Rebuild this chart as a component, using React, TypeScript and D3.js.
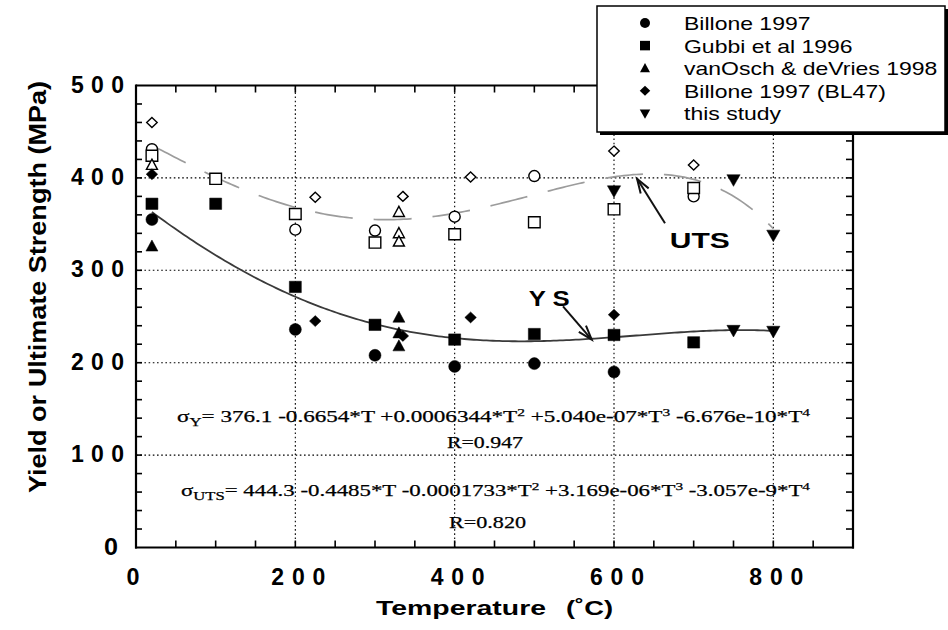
import React from 'react';
import * as d3 from 'd3';

const W = 948;
const H = 630;

// Axis ticks
const xMajor = [0, 200, 400, 600, 800];
const yMajor = [0, 100, 200, 300, 400, 500];
const xGrid = [200, 400, 600, 800];
const yGrid = [100, 200, 300, 400];

// [temperature °C, strength MPa]
const billoneYS: [number, number][] = [[20, 355], [200, 236], [300, 208], [400, 196], [500, 199], [600, 190]];
const billoneUTS: [number, number][] = [[20, 431], [200, 344], [300, 343], [400, 358], [500, 402], [700, 380]];
const gubbiYS: [number, number][] = [[20, 372], [100, 372], [200, 282], [300, 241], [400, 225], [500, 231], [600, 230], [700, 222]];
const gubbiUTS: [number, number][] = [[20, 424], [100, 399], [200, 361], [300, 330], [400, 339], [500, 352], [600, 366], [700, 389]];
const vanOschYS: [number, number][] = [[20, 326], [330, 249], [330, 232], [330, 218]];
const vanOschUTS: [number, number][] = [[20, 414], [330, 363], [330, 340], [330, 331]];
const bl47YS: [number, number][] = [[20, 404], [225, 245], [335, 229], [420, 249], [600, 252]];
const bl47UTS: [number, number][] = [[20, 460], [225, 379], [335, 380], [420, 401], [600, 429], [700, 414]];
const studyYS: [number, number][] = [[750, 235], [800, 234]];
const studyUTS: [number, number][] = [[600, 386], [750, 398], [800, 338]];

// Fourth-order polynomial fits (coefficients of T^0 .. T^4)
const ysCoef = [376.1, -0.6654, 0.0006344, 5.040e-07, -6.676e-10];
const utsCoef = [444.3, -0.4485, -0.0001733, 3.169e-06, -3.057e-9];
const fitRange = [20, 800];

const legendLabels = ['Billone 1997', 'Gubbi et al 1996', 'vanOsch & deVries 1998', 'Billone 1997 (BL47)', 'this study'];
type Shape = 'circle' | 'square' | 'triangle' | 'diamond' | 'triangleDown';
const legendShapes: Shape[] = ['circle', 'square', 'triangle', 'diamond', 'triangleDown'];

const x = d3.scaleLinear().domain([0, 900]).range([136, 853]);
const y = d3.scaleLinear().domain([0, 500]).range([547.5, 85.5]);

const poly = (c: number[], t: number) => c.reduce((s, a, i) => s + a * Math.pow(t, i), 0);

function markerPath(shape: Shape, cx: number, cy: number, s: number): string {
  const p = d3.path();
  if (shape === 'circle') {
    p.moveTo(cx + s, cy);
    p.arc(cx, cy, s, 0, Math.PI * 2);
  } else if (shape === 'square') {
    p.rect(cx - s, cy - s * 0.95, 2 * s, 1.9 * s);
  } else if (shape === 'triangle') {
    p.moveTo(cx, cy - s * 1.05);
    p.lineTo(cx + s, cy + s * 0.8);
    p.lineTo(cx - s, cy + s * 0.8);
  } else if (shape === 'diamond') {
    p.moveTo(cx, cy - s);
    p.lineTo(cx + s * 1.05, cy);
    p.lineTo(cx, cy + s);
    p.lineTo(cx - s * 1.05, cy);
  } else {
    p.moveTo(cx, cy + s * 1.05);
    p.lineTo(cx + s * 1.05, cy - s * 0.8);
    p.lineTo(cx - s * 1.05, cy - s * 0.8);
  }
  p.closePath();
  return p.toString();
}

const filledSize: Record<Shape, number> = { circle: 6, square: 6, triangle: 6, diamond: 5.5, triangleDown: 6.3 };
const openSize: Record<Shape, number> = { circle: 5.5, square: 5.8, triangle: 5.5, diamond: 5, triangleDown: 6 };

const seriesYS: { shape: Shape; data: [number, number][] }[] = [
  { shape: 'circle', data: billoneYS },
  { shape: 'square', data: gubbiYS },
  { shape: 'triangle', data: vanOschYS },
  { shape: 'diamond', data: bl47YS },
  { shape: 'triangleDown', data: studyYS },
];
const seriesUTS: { shape: Shape; data: [number, number][]; filled: boolean }[] = [
  { shape: 'circle', data: billoneUTS, filled: false },
  { shape: 'square', data: gubbiUTS, filled: false },
  { shape: 'triangle', data: vanOschUTS, filled: false },
  { shape: 'diamond', data: bl47UTS, filled: false },
  { shape: 'triangleDown', data: studyUTS, filled: true },
];

function Arrow({ from, to }: { from: [number, number]; to: [number, number] }) {
  const [x1, y1] = [x(from[0]), y(from[1])];
  const [x2, y2] = [x(to[0]), y(to[1])];
  const ang = Math.atan2(y2 - y1, x2 - x1);
  const len = 15;
  const spread = 0.32;
  const a1: [number, number] = [x2 - len * Math.cos(ang - spread), y2 - len * Math.sin(ang - spread)];
  const a2: [number, number] = [x2 - len * Math.cos(ang + spread), y2 - len * Math.sin(ang + spread)];
  return (
    <g stroke="#111" strokeWidth={2} fill="none">
      <line x1={x1} y1={y1} x2={x2} y2={y2} />
      <polyline points={`${a1[0]},${a1[1]} ${x2},${y2} ${a2[0]},${a2[1]}`} />
    </g>
  );
}

export default function App() {
  const ts = d3.range(fitRange[0], fitRange[1] + 0.1, 4);
  const ysPath = d3.line<number>().x((t) => x(t)).y((t) => y(poly(ysCoef, t)))(ts) || '';
  const utsPath = d3.line<number>().x((t) => x(t)).y((t) => y(poly(utsCoef, t)))(ts) || '';

  const x0 = x(0), x1 = x(900), yB = y(0), yT = y(500);
  const legend = { left: 597, top: 6, right: 946, bottom: 132 };

  const xMinor = d3.range(50, 900, 50);
  const yMinor = d3.range(20, 500, 20);

  const sans = 'Liberation Sans, Arial, Helvetica, sans-serif';
  const serif = 'Liberation Serif, Times New Roman, serif';

  return (
    <svg width={W} height={H} style={{ position: 'absolute', left: 0, top: 0, background: '#fff' }}>
      <rect x={0} y={0} width={W} height={H} fill="#fff" />

      {/* dotted grid */}
      <g stroke="#000" strokeWidth={1.1} strokeDasharray="1.6,2.6">
        {xGrid.map((v) => (
          <line key={'gx' + v} x1={x(v)} x2={x(v)} y1={yB} y2={yT} />
        ))}
        {yGrid.map((v) => (
          <line key={'gy' + v} x1={x0} x2={x1} y1={y(v)} y2={y(v)} />
        ))}
      </g>

      {/* fitted curves */}
      <path d={utsPath} fill="none" stroke="#9c9c9c" strokeWidth={1.7} strokeDasharray="38,21" />
      <path d={ysPath} fill="none" stroke="#3a3a3a" strokeWidth={1.8} />

      {/* ultimate strength markers */}
      {seriesUTS.map((s, i) => (
        <g key={'u' + i}>
          {s.data.map(([t, v], j) => (
            <path
              key={j}
              d={markerPath(s.shape, x(t), y(v), s.filled ? filledSize[s.shape] : openSize[s.shape])}
              fill={s.filled ? '#000' : '#fff'}
              stroke="#000"
              strokeWidth={s.filled ? 0.5 : 1.4}
            />
          ))}
        </g>
      ))}

      {/* yield strength markers */}
      {seriesYS.map((s, i) => (
        <g key={'y' + i}>
          {s.data.map(([t, v], j) => (
            <path key={j} d={markerPath(s.shape, x(t), y(v), filledSize[s.shape])} fill="#000" stroke="#000" strokeWidth={0.5} />
          ))}
        </g>
      ))}

      {/* frame */}
      <g stroke="#000" strokeWidth={2.2} fill="none">
        <line x1={x0} x2={x0} y1={yT - 1} y2={yB + 1} />
        <line x1={x0 - 1} x2={x1 + 1} y1={yB} y2={yB} />
        <line x1={x0} x2={legend.left} y1={yT} y2={yT} />
        <line x1={x1} x2={x1} y1={legend.bottom} y2={yB + 1} />
      </g>

      {/* inward ticks */}
      <g stroke="#000" strokeWidth={1.6}>
        {xMinor.map((v) => (
          <g key={'tx' + v}>
            <line x1={x(v)} x2={x(v)} y1={yB} y2={yB - 7} />
            <line x1={x(v)} x2={x(v)} y1={yT} y2={yT + 7} />
          </g>
        ))}
        {yMinor.map((v) => (
          <g key={'ty' + v}>
            <line x1={x0} x2={x0 + 6} y1={y(v)} y2={y(v)} />
            <line x1={x1} x2={x1 - 7} y1={y(v)} y2={y(v)} />
          </g>
        ))}
      </g>

      {/* tick labels */}
      <g fontFamily={sans} fontWeight="bold" fontSize={23} fill="#000">
        {yMajor.map((v) => (
          <text
            key={'ly' + v}
            x={v === 0 ? 118 : 124}
            y={y(v) + 7}
            textAnchor="end"
            textLength={v === 0 ? 14 : 53}
            lengthAdjust={v === 0 ? 'spacingAndGlyphs' : 'spacing'}
          >
            {String(v)}
          </text>
        ))}
        {xMajor.map((v) => (
          <text
            key={'lx' + v}
            x={v === 0 ? x(v) - 3 : x(v) + 3}
            y={585}
            textAnchor="middle"
            textLength={v === 0 ? 13 : 54}
            lengthAdjust={v === 0 ? 'spacingAndGlyphs' : 'spacing'}
          >
            {String(v)}
          </text>
        ))}
      </g>

      {/* axis titles */}
      <g fontFamily={sans} fontWeight="bold" fill="#000">
        <text x={376} y={615} fontSize={21} textLength={170} lengthAdjust="spacingAndGlyphs">
          Temperature
        </text>
        <text x={566} y={615} fontSize={21} textLength={47} lengthAdjust="spacingAndGlyphs">
          (˚C)
        </text>
        <g transform="translate(46,287) scale(1.3,1) rotate(-90)">
          <text x={0} y={0} fontSize={19} textAnchor="middle" textLength={412} lengthAdjust="spacingAndGlyphs">
            Yield or Ultimate Strength (MPa)
          </text>
        </g>
      </g>

      {/* curve labels and arrows */}
      <g fontFamily={sans} fontWeight="bold" fill="#000" fontSize={22}>
        <text x={x(670)} y={y(324)} textLength={60} lengthAdjust="spacingAndGlyphs">UTS</text>
        <text x={x(493)} y={y(261)} textLength={41} lengthAdjust="spacingAndGlyphs">Y S</text>
      </g>
      <Arrow from={[664, 351]} to={[629, 399]} />
      <Arrow from={[536, 261]} to={[572, 225]} />

      {/* fit equations */}
      <g fontFamily={serif} fontSize={16.5} fill="#000" stroke="#000" strokeWidth={0.25}>
        <text x={177} y={422} textLength={633} lengthAdjust="spacingAndGlyphs">
          σ<tspan dy={4} fontSize={12}>Y</tspan>
          <tspan dy={-4}>= 376.1 -0.6654*T +0.0006344*T</tspan>
          <tspan dy={-6} fontSize={11}>2</tspan>
          <tspan dy={6}> +5.040e-07*T</tspan>
          <tspan dy={-6} fontSize={11}>3</tspan>
          <tspan dy={6}>  -6.676e-10*T</tspan>
          <tspan dy={-6} fontSize={11}>4</tspan>
        </text>
        <text x={447} y={448} textLength={76} lengthAdjust="spacingAndGlyphs">R=0.947</text>
        <text x={181} y={496} textLength={629} lengthAdjust="spacingAndGlyphs">
          σ<tspan dy={4} fontSize={12}>UTS</tspan>
          <tspan dy={-4}>= 444.3 -0.4485*T -0.0001733*T</tspan>
          <tspan dy={-6} fontSize={11}>2</tspan>
          <tspan dy={6}> +3.169e-06*T</tspan>
          <tspan dy={-6} fontSize={11}>3</tspan>
          <tspan dy={6}>  -3.057e-9*T</tspan>
          <tspan dy={-6} fontSize={11}>4</tspan>
        </text>
        <text x={449} y={528} textLength={77} lengthAdjust="spacingAndGlyphs">R=0.820</text>
      </g>

      {/* legend */}
      <rect x={legend.left + 3} y={legend.top + 3} width={legend.right - legend.left} height={legend.bottom - legend.top} fill="#000" />
      <rect
        x={legend.left}
        y={legend.top}
        width={legend.right - legend.left - 1}
        height={legend.bottom - legend.top}
        fill="#fff"
        stroke="#000"
        strokeWidth={1.5}
      />
      <g fontFamily={sans} fontSize={19} fill="#000">
        {legendLabels.map((lab, i) => {
          const by = 30 + i * 22.6;
          return (
            <g key={lab}>
              <path d={markerPath(legendShapes[i], 645, by - 7, 5)} fill="#000" />
              <g transform={`translate(684,${by}) scale(1.21,1)`}>
                <text x={0} y={0}>{lab}</text>
              </g>
            </g>
          );
        })}
      </g>
    </svg>
  );
}
